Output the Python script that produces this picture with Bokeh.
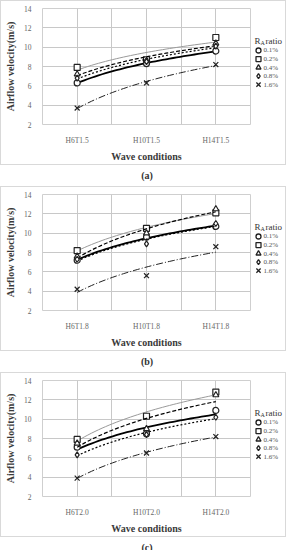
import numpy as np
from bokeh.plotting import figure
from bokeh.models import FixedTicker, Div
from bokeh.layouts import column, row
from bokeh.embed import file_html
from bokeh.resources import INLINE

# ---- data ----
ratios = ["0.1%", "0.2%", "0.4%", "0.8%", "1.6%"]
y_ticks = [2, 4, 6, 8, 10, 12, 14]

cats_a = ["H6T1.5", "H10T1.5", "H14T1.5"]
a_r01 = [6.3, 8.3, 9.6]
a_r02 = [7.9, 8.7, 11.0]
a_r04 = [7.2, 8.6, 10.4]
a_r08 = [6.8, 8.5, 10.1]
a_r16 = [3.7, 6.3, 8.2]

cats_b = ["H6T1.8", "H10T1.8", "H14T1.8"]
b_r01 = [7.2, 9.6, 10.7]
b_r02 = [8.2, 10.5, 12.1]
b_r04 = [7.6, 10.0, 12.5]
b_r08 = [7.3, 8.9, 11.0]
b_r16 = [4.2, 5.6, 8.6]

cats_c = ["H6T2.0", "H10T2.0", "H14T2.0"]
c_r01 = [7.1, 8.5, 10.9]
c_r02 = [7.9, 10.3, 12.8]
c_r04 = [7.5, 9.0, 12.5]
c_r08 = [6.3, 8.4, 10.2]
c_r16 = [3.9, 6.5, 8.2]

markers = ["circle", "square", "triangle", "diamond", "x"]
line_styles = [
    dict(line_color="black", line_width=1.8, line_dash="solid"),
    dict(line_color="#9a9a9a", line_width=1.0, line_dash="solid"),
    dict(line_color="black", line_width=1.2, line_dash="4 2"),
    dict(line_color="black", line_width=1.2, line_dash="2 2"),
    dict(line_color="#222222", line_width=1.0, line_dash="7 2 1 2"),
]
SERIF = "Liberation Serif"
H = 163


def make_main(cats, series):
    p = figure(width=250, height=H, x_range=(0.5, 3.5), y_range=(2, 14),
               output_backend="svg", toolbar_location=None,
               min_border_left=35, min_border_right=1,
               min_border_top=7, min_border_bottom=32)
    p.outline_line_color = "#cfcfcf"
    xs = np.arange(1, len(cats) + 1)
    for i, ys in enumerate(series):
        ys = np.array(ys, dtype=float)
        # logarithmic trendline (as in the source chart)
        b, a = np.polyfit(np.log(xs), ys, 1)
        xt = np.linspace(1, len(cats), 40)
        p.line(xt, a + b * np.log(xt), **line_styles[i])
        p.scatter(list(xs), list(ys), marker=markers[i],
                  size=6 if markers[i] != "x" else 7,
                  line_color="#222222", fill_color="white", line_width=1.2)
    p.xaxis.ticker = FixedTicker(ticks=[1, 2, 3])
    p.xaxis.major_label_overrides = {1: cats[0], 2: cats[1], 3: cats[2]}
    p.xgrid.ticker = FixedTicker(ticks=[0.5, 1, 1.5, 2, 2.5, 3, 3.5])
    p.yaxis.ticker = FixedTicker(ticks=y_ticks)
    p.ygrid.ticker = FixedTicker(ticks=y_ticks)
    for g in (p.xgrid, p.ygrid):
        g.grid_line_color = "#c8c8c8"
        g.grid_line_width = 1
    for ax in (p.xaxis, p.yaxis):
        ax.axis_line_color = None
        ax.major_tick_line_color = None
        ax.minor_tick_line_color = None
        ax.major_label_text_font = SERIF
        ax.major_label_text_color = "#666666"
        ax.major_label_text_font_size = "7.5px"
        ax.axis_label_text_font = SERIF
        ax.axis_label_text_font_style = "bold"
        ax.axis_label_text_font_size = "10px"
        ax.axis_label_text_color = "#3a3a3a"
        ax.major_label_standoff = 5
    p.xaxis.axis_label = "Wave conditions"
    p.xaxis.axis_label_standoff = 3
    p.yaxis.axis_label = "Airflow velocity(m/s)"
    p.yaxis.axis_label_standoff = 5
    return p


def make_legend():
    lf = figure(width=34, height=H, x_range=(0, 34), y_range=(H, 0),
                output_backend="svg", toolbar_location=None,
                x_axis_location=None, y_axis_location=None,
                min_border_left=0, min_border_right=0,
                min_border_top=0, min_border_bottom=0)
    lf.outline_line_color = None
    lf.xgrid.visible = False
    lf.ygrid.visible = False
    ty = 46
    lf.text([3], [ty], text=["R"], text_font_size="9px", text_color="#333333",
            text_baseline="middle", text_align="left", text_font={"value": SERIF})
    lf.text([9], [ty + 2], text=["A"], text_font_size="6px", text_color="#333333",
            text_baseline="middle", text_align="left", text_font={"value": SERIF})
    lf.text([14], [ty], text=["ratio"], text_font_size="9px", text_color="#333333",
            text_baseline="middle", text_align="left", text_font={"value": SERIF})
    ey = [59, 71, 83, 95, 107]
    for i in range(len(ratios)):
        lf.scatter([7], [ey[i]], marker=markers[i], size=5 if markers[i] != "x" else 6,
                   line_color="#222222", fill_color="white", line_width=1.3)
        lf.text([12], [ey[i]], text=[ratios[i]], text_font_size="7px",
                text_color="#555555", text_baseline="middle", text_align="left",
                text_font={"value": SERIF})
    return lf


def panel(cats, series):
    return row(make_main(cats, series), make_legend(),
               styles={"border": "1px solid #d9d9d9"})


def cap(t):
    return Div(text=t, width=284, height=11,
               styles={"text-align": "center", "font-family": SERIF,
                       "font-weight": "bold", "font-size": "10px",
                       "color": "#333333", "line-height": "11px"})


layout = column(
    panel(cats_a, [a_r01, a_r02, a_r04, a_r08, a_r16]), cap("(a)"),
    panel(cats_b, [b_r01, b_r02, b_r04, b_r08, b_r16]), cap("(b)"),
    panel(cats_c, [c_r01, c_r02, c_r04, c_r08, c_r16]), cap("(c)"),
)
open("out.html", "w").write(file_html(layout, INLINE))
